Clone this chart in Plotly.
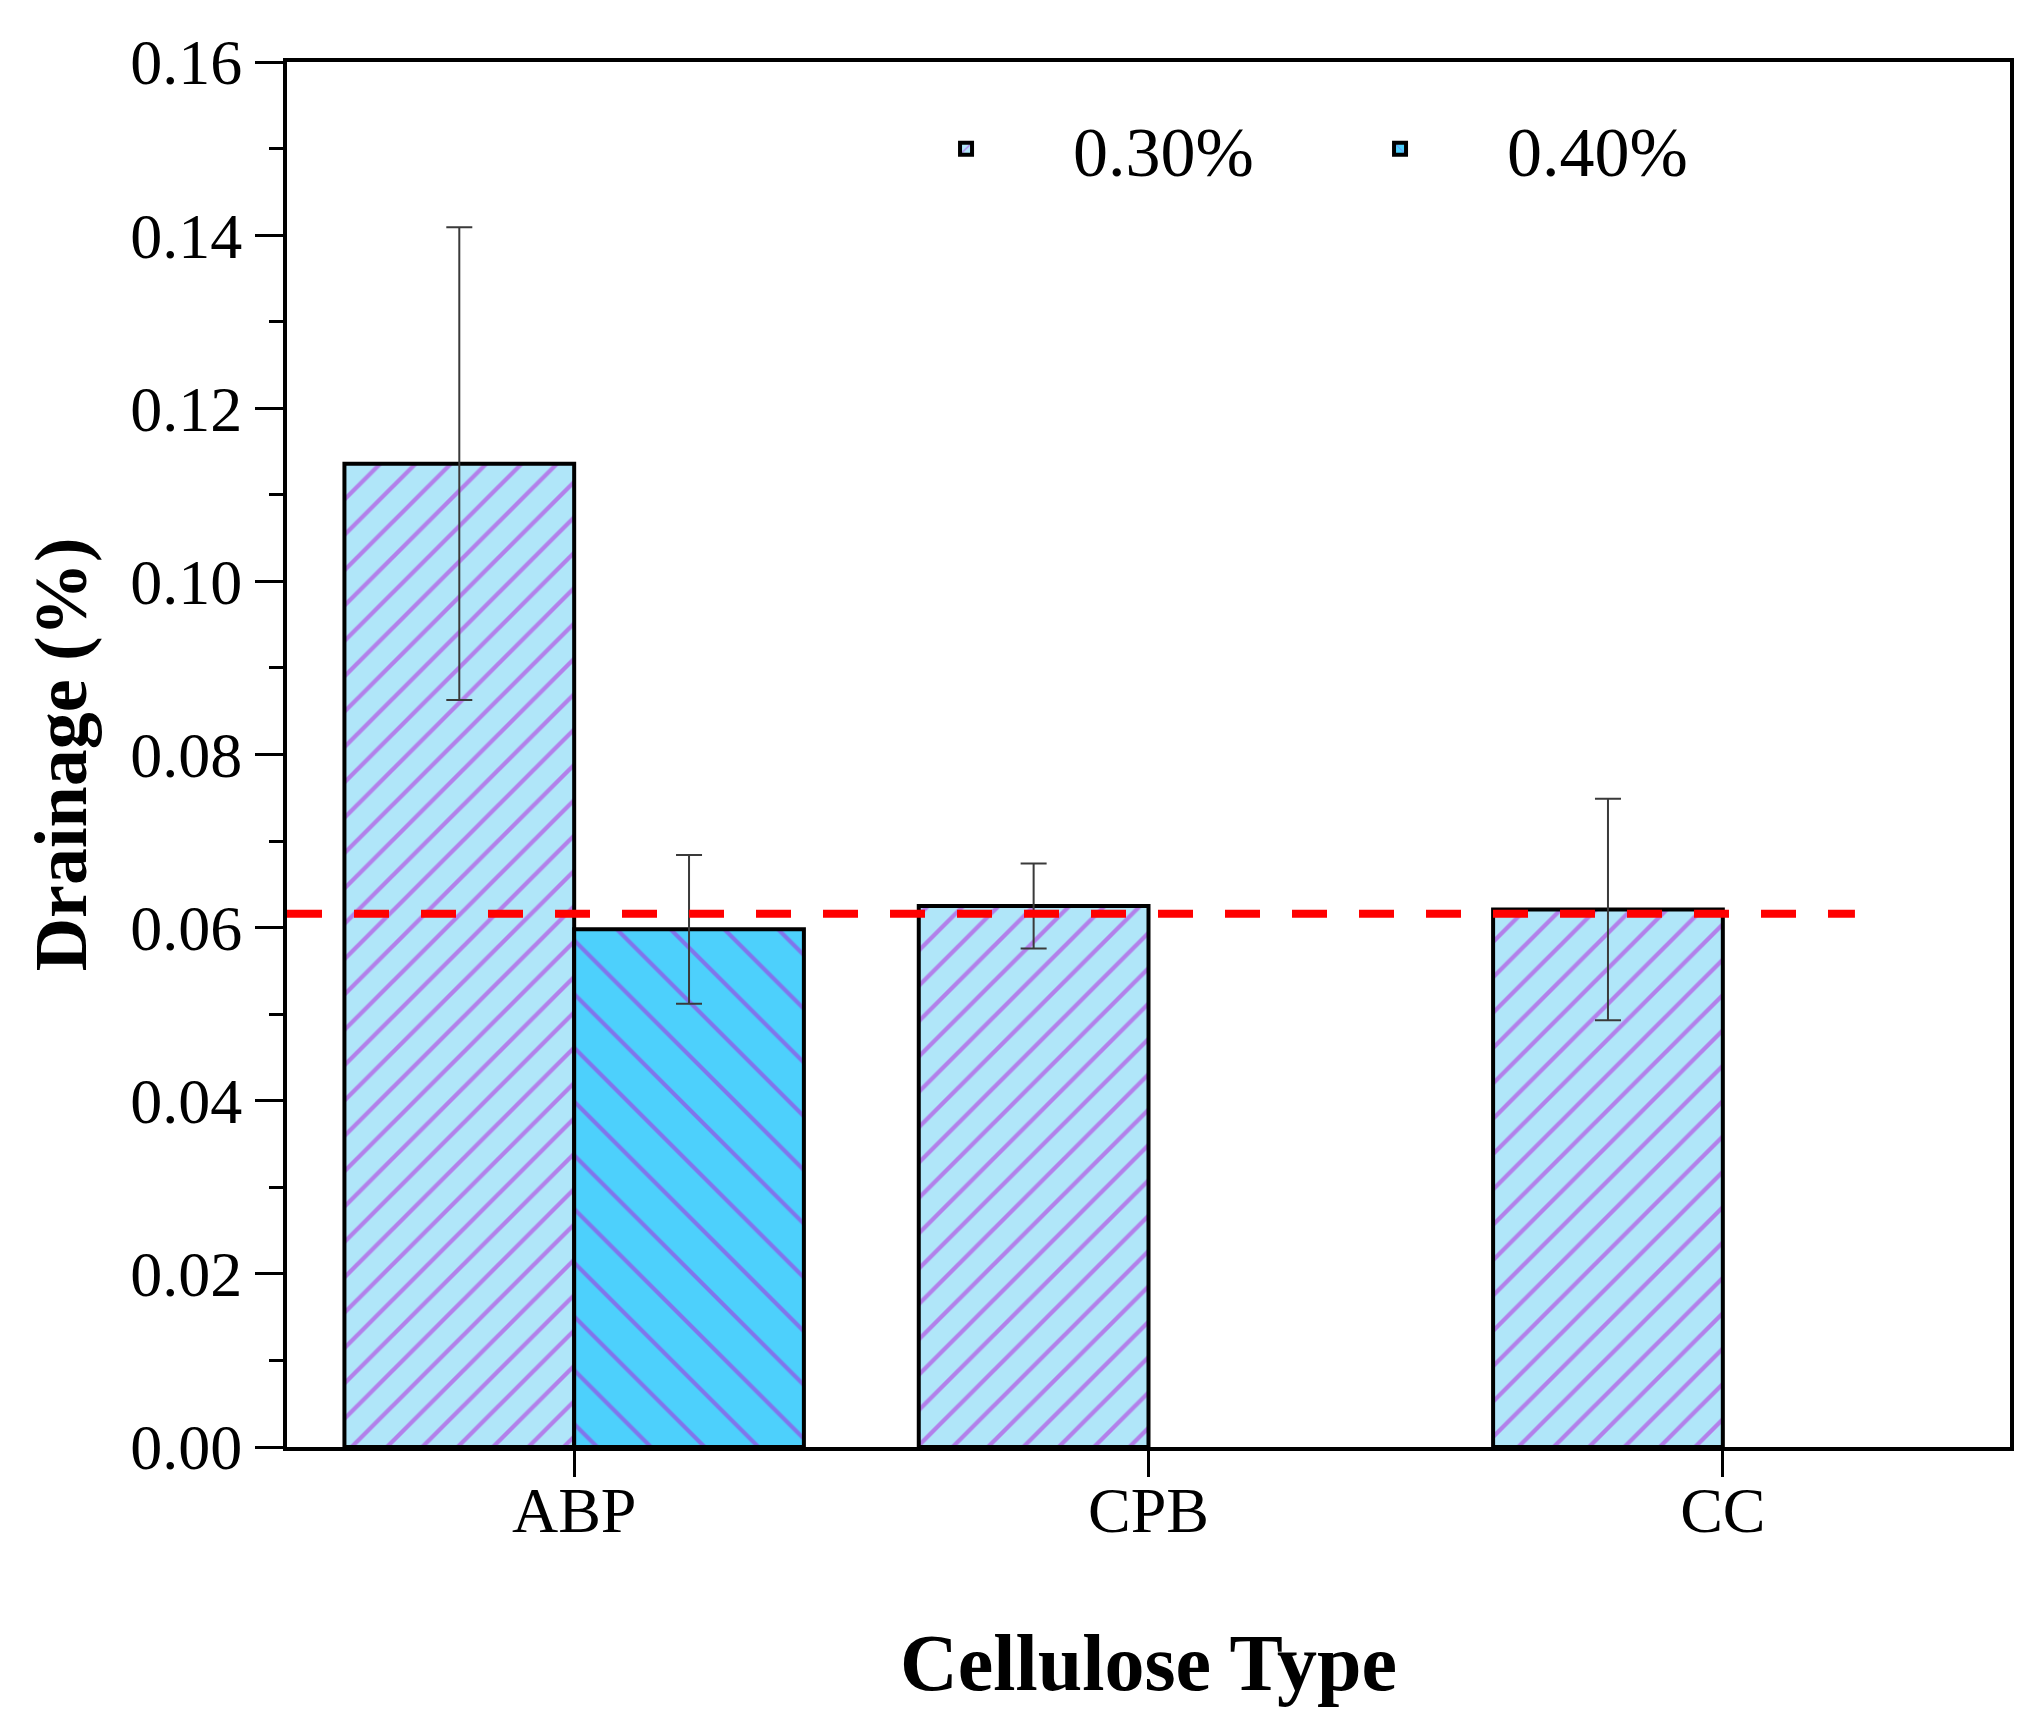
import plotly.graph_objs as go

# data
cellulose = ['ABP', 'CPB', 'CC']
drain_030 = [0.1136, 0.0625, 0.0621]
err_030 = [0.0273, 0.0049, 0.0128]
drain_040 = [0.0598, None, None]
err_040 = [0.0086, 0, 0]
ref_level = 0.0616
ref_span = [-0.5, 2.23]

pos = list(range(len(cellulose)))
serif = 'Liberation Serif'
hatch = '#B41ADB'

fig = go.Figure()
fig.add_trace(go.Bar(
    x=pos, y=drain_030, name='0.30%',
    marker=dict(color='#B0E6F9', line=dict(color='black', width=4),
                pattern=dict(shape='/', fgcolor=hatch, bgcolor='#B0E6F9',
                             size=25, solidity=0.17)),
    error_y=dict(type='data', array=err_030, visible=True,
                 color='#3a3a3a', thickness=2, width=13),
))
fig.add_trace(go.Bar(
    x=pos, y=drain_040, name='0.40%',
    marker=dict(color='#4DD0FC', line=dict(color='black', width=4),
                pattern=dict(shape='\\', fgcolor=hatch, bgcolor='#4DD0FC',
                             size=38, solidity=0.11)),
    error_y=dict(type='data', array=err_040, visible=True,
                 color='#3a3a3a', thickness=2, width=13),
))
# red dashed reference level
fig.add_trace(go.Scatter(
    x=ref_span, y=[ref_level, ref_level], mode='lines', showlegend=False,
    line=dict(color='#FF0000', width=8, dash='35px,32px'),
))

fig.update_layout(
    barmode='group', bargap=0.2, bargroupgap=0,
    width=2033, height=1731,
    margin=dict(l=279, r=31, t=54, b=292),
    plot_bgcolor='white', paper_bgcolor='white',
    font=dict(family=serif, size=64, color='black'),
    legend=dict(orientation='h', x=0.332, xanchor='left', y=0.975, yanchor='top',
                font=dict(size=70), bgcolor='rgba(0,0,0,0)', itemwidth=204,
                entrywidth=215, entrywidthmode='pixels', tracegroupgap=0),
    showlegend=True,
)
fig.update_xaxes(
    range=[-0.5, 2.5], tickmode='array', tickvals=pos, ticktext=cellulose,
    showgrid=False, zeroline=False,
    showline=True, linecolor='black', linewidth=4, mirror=True,
    ticks='outside', ticklen=26, tickwidth=3, tickcolor='black',
    ticklabelstandoff=-22,
    title=dict(text='<b>Cellulose Type</b>', font=dict(size=80), standoff=90),
)
fig.update_yaxes(
    range=[0, 0.16], dtick=0.02, tickformat='.2f',
    showgrid=False, zeroline=False,
    showline=True, linecolor='black', linewidth=4, mirror=True,
    ticks='outside', ticklen=28, tickwidth=3, tickcolor='black',
    minor=dict(dtick=0.01, ticks='outside', ticklen=14, tickwidth=3, tickcolor='black'),
    title=dict(text='<b>Drainage (%)</b>', font=dict(size=74), standoff=20),
)

fig.write_html("out.html")
